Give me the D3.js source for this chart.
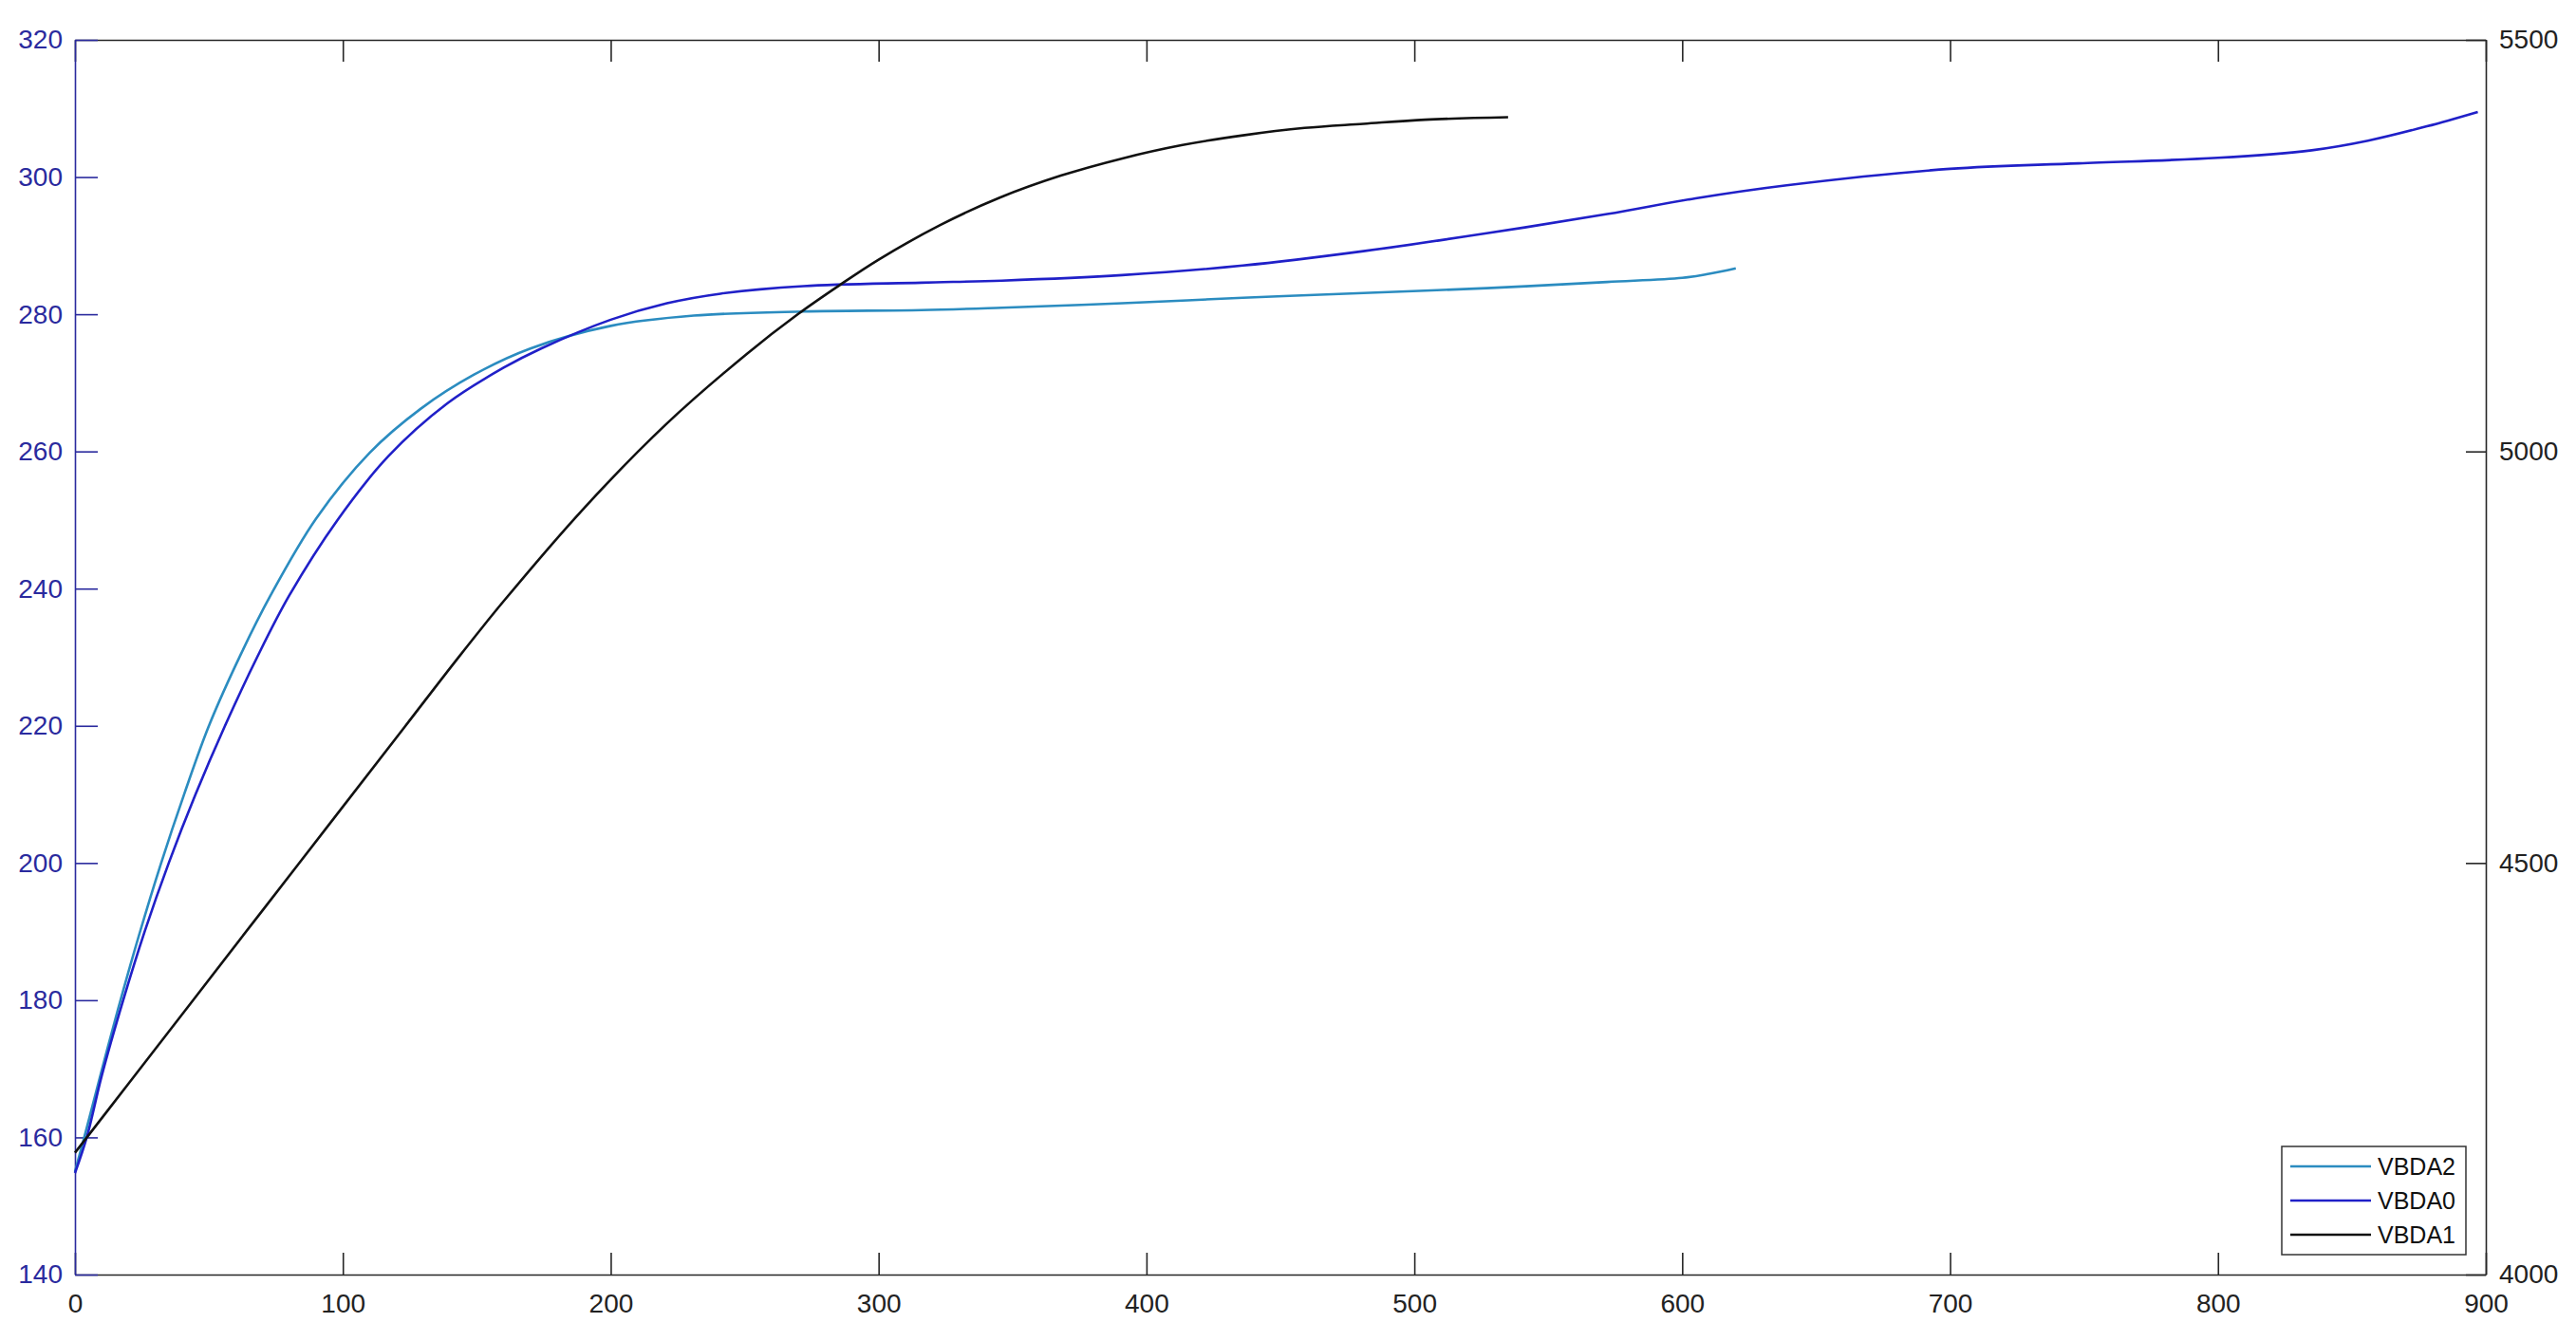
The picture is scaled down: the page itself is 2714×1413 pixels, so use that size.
<!DOCTYPE html>
<html>
<head>
<meta charset="utf-8">
<script src="https://cdn.jsdelivr.net/npm/d3@7"></script>
<style>
    body { margin: 0; background: #fff; }
    svg { display: block; font-family: "Liberation Sans", Arial, sans-serif; }
    .tick text { font-size: 28px; }
    .legend text { font-size: 25px; fill: #111; }
</style>
</head>
<body>
<div id="chart"></div>
<script>
// values
const xTicks = [0, 100, 200, 300, 400, 500, 600, 700, 800, 900];
const yLeftTicks = [140, 160, 180, 200, 220, 240, 260, 280, 300, 320];
const yRightTicks = [4000, 4500, 5000, 5500];

// VBDA2 (left axis)
const vbda2X = [0, 4, 10, 16, 24, 32, 41, 50, 62, 73, 90, 110, 129, 149, 170, 200, 231, 272, 316, 346, 391, 436, 481, 527, 572, 600, 610, 620];
const vbda2Y = [155, 160.8, 169.8, 178.6, 189.6, 199.8, 210.3, 220, 230.5, 239, 250.2, 259.8, 266.2, 271.2, 275, 278.3, 279.8, 280.4, 280.6, 280.95, 281.6, 282.4, 283.1, 283.8, 284.7, 285.3, 285.9, 286.7];

// VBDA0 (left axis)
const vbda0X = [0, 4.4, 10, 18, 26, 35, 45, 56, 68, 80, 98, 117, 139, 160, 174, 200, 221, 241, 272, 316, 346, 391, 436, 481, 527, 572, 605, 639, 700, 748, 800, 835, 856, 878, 897];
const vbda0Y = [154.8, 160, 169, 180, 190, 200, 210, 220, 230, 239, 250, 259.3, 267, 272.2, 275, 279.2, 281.6, 283, 284.1, 284.6, 284.9, 285.7, 287.1, 289.2, 291.8, 294.6, 296.9, 298.8, 301.2, 302, 302.8, 303.9, 305.3, 307.4, 309.5];

// VBDA1 (right axis)
const vbda1X = [0, 20, 44, 83, 123, 142, 160, 190, 221, 251, 270, 285, 300, 323, 345, 368, 391, 413, 436, 459, 481, 504, 535];
const vbda1Y = [4148, 4232, 4333, 4497, 4665, 4745, 4818, 4931, 5034, 5119, 5167, 5201, 5233, 5275, 5308, 5335, 5356, 5372, 5384, 5393, 5398, 5403, 5406];

const WIDTH = 2714;
const HEIGHT = 1413;
const margin = { top: 42, right: 95, bottom: 70, left: 79 };
const plotW = WIDTH - margin.left - margin.right;
const plotH = HEIGHT - margin.top - margin.bottom;

const LEFT_COLOR = '#2a2a9e';
const AXIS_COLOR = '#262626';

const svg = d3.select('#chart').append('svg')
    .attr('width', WIDTH)
    .attr('height', HEIGHT);

const g = svg.append('g')
    .attr('transform', 'translate(' + margin.left + ',' + margin.top + ')');

const x = d3.scaleLinear().domain([0, 900]).range([0, plotW]);
const yLeft = d3.scaleLinear().domain([140, 320]).range([plotH, 0]);
const yRight = d3.scaleLinear().domain([4000, 5500]).range([plotH, 0]);

// axes, ticks pointing inwards like the original
const bottomAxis = g.append('g')
    .attr('transform', 'translate(0,' + plotH + ')')
    .call(d3.axisBottom(x).tickValues(xTicks).tickSizeInner(-23).tickSizeOuter(0).tickPadding(20));

const topAxis = g.append('g')
    .call(d3.axisTop(x).tickValues(xTicks).tickSizeInner(-23).tickSizeOuter(0).tickFormat(''));

const leftAxis = g.append('g')
    .call(d3.axisLeft(yLeft).tickValues(yLeftTicks).tickSizeInner(-24).tickSizeOuter(0).tickPadding(13));

const rightAxis = g.append('g')
    .attr('transform', 'translate(' + plotW + ',0)')
    .call(d3.axisRight(yRight).tickValues(yRightTicks).tickFormat(d3.format('d'))
        .tickSizeInner(-21).tickSizeOuter(0).tickPadding(14));

[bottomAxis, topAxis, rightAxis].forEach(a => {
    a.selectAll('path, line').attr('stroke', AXIS_COLOR).attr('stroke-width', 1.6);
    a.selectAll('text').attr('fill', '#222');
});
leftAxis.selectAll('path, line').attr('stroke', LEFT_COLOR).attr('stroke-width', 1.6);
leftAxis.selectAll('text').attr('fill', LEFT_COLOR);

// series
const series = [
    { name: 'VBDA2', xs: vbda2X, ys: vbda2Y, y: yLeft, color: '#2b8cc0' },
    { name: 'VBDA0', xs: vbda0X, ys: vbda0Y, y: yLeft, color: '#2020c8' },
    { name: 'VBDA1', xs: vbda1X, ys: vbda1Y, y: yRight, color: '#111111' }
];

series.forEach(s => {
    const pts = s.xs.map((v, i) => [v, s.ys[i]]);
    const line = d3.line()
        .x(d => x(d[0]))
        .y(d => s.y(d[1]))
        .curve(d3.curveCatmullRom.alpha(0.5));
    g.append('path')
        .datum(pts)
        .attr('fill', 'none')
        .attr('stroke', s.color)
        .attr('stroke-width', 2.6)
        .attr('d', line);
});

// legend
const legend = svg.append('g')
    .attr('class', 'legend')
    .attr('transform', 'translate(2404,1208)');

legend.append('rect')
    .attr('width', 194)
    .attr('height', 114)
    .attr('fill', '#fff')
    .attr('stroke', '#333')
    .attr('stroke-width', 1.5);

const items = legend.selectAll('g.item')
    .data(series)
    .join('g')
        .attr('class', 'item')
        .attr('transform', (d, i) => 'translate(0,' + (21 + i * 36) + ')');

items.append('line')
    .attr('x1', 9).attr('x2', 94)
    .attr('stroke', d => d.color)
    .attr('stroke-width', 2.6);

items.append('text')
    .attr('x', 101)
    .attr('dy', '0.35em')
    .text(d => d.name);
</script>
</body>
</html>
